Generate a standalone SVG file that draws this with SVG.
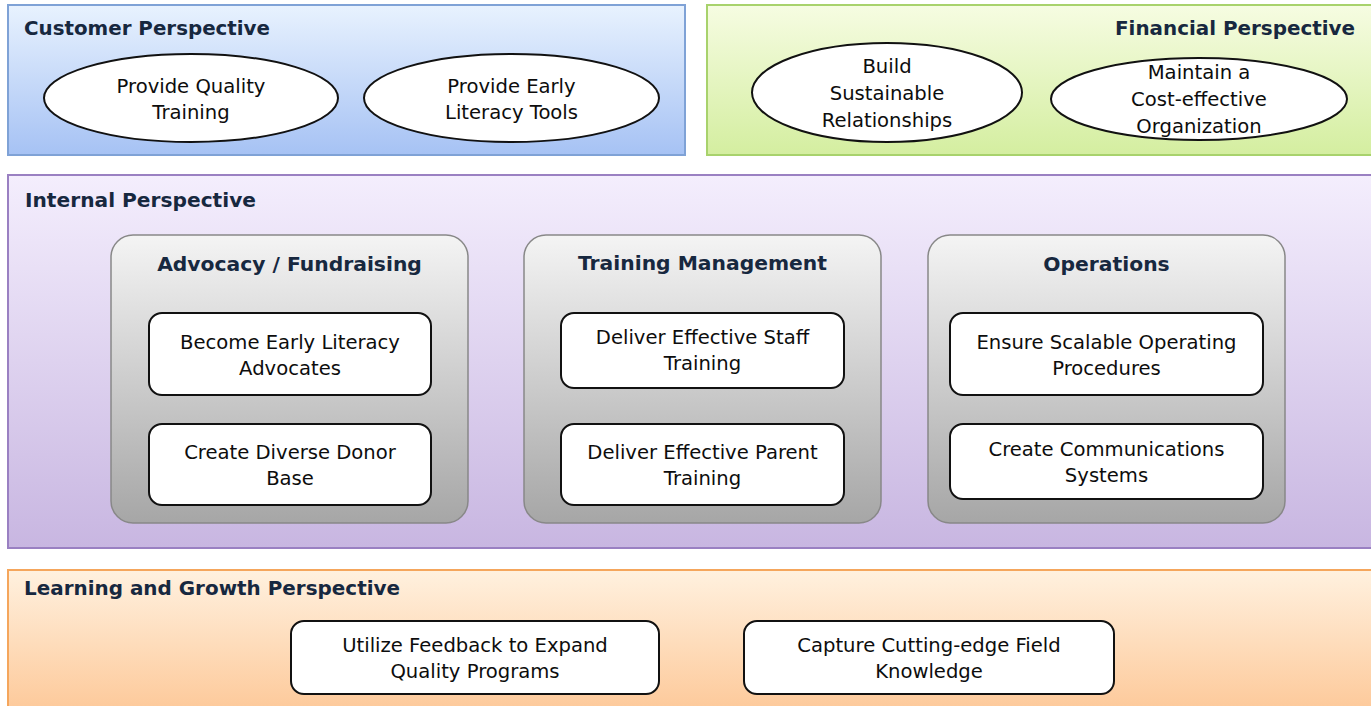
<svg xmlns="http://www.w3.org/2000/svg" width="1371" height="706" viewBox="0 0 1371 706">
<defs>
<linearGradient id="gBlue" x1="0" y1="0" x2="0" y2="1"><stop offset="0" stop-color="#e8f2fe"/><stop offset="1" stop-color="#a6c2f4"/></linearGradient>
<linearGradient id="gGreen" x1="0" y1="0" x2="0" y2="1"><stop offset="0" stop-color="#f6fce2"/><stop offset="1" stop-color="#d4eea0"/></linearGradient>
<linearGradient id="gPurple" x1="0" y1="0" x2="0" y2="1"><stop offset="0" stop-color="#f4eefd"/><stop offset="1" stop-color="#c8b6e1"/></linearGradient>
<linearGradient id="gOrange" x1="0" y1="0" x2="0" y2="1"><stop offset="0" stop-color="#fff1df"/><stop offset="1" stop-color="#fdc898"/></linearGradient>
<linearGradient id="gGray" x1="0" y1="0" x2="0" y2="1"><stop offset="0" stop-color="#f4f4f4"/><stop offset="1" stop-color="#a6a6a6"/></linearGradient>
</defs>
<style>
.title{font-family:"DejaVu Sans",Verdana,sans-serif;font-weight:bold;font-size:20px;fill:#17283f}
.gt{font-size:20.3px;text-anchor:middle}
.lbl{font-family:"DejaVu Sans",Verdana,sans-serif;font-size:19.6px;fill:#0d0d0d;text-anchor:middle}
.node{fill:#fff;stroke:#111;stroke-width:2}
.grp{fill:url(#gGray);stroke:#888;stroke-width:1.5}
</style>
<rect width="1371" height="706" fill="#fff"/>

<g id="customer-perspective">
<rect x="8" y="5" width="677" height="150" fill="url(#gBlue)" stroke="#7fa2d6" stroke-width="2"/>
<text class="title" x="24" y="35" textLength="246" lengthAdjust="spacingAndGlyphs">Customer Perspective</text>
</g>
<g id="provide-quality-training">
<ellipse class="node" cx="191" cy="98" rx="147" ry="44"/>
<text class="lbl" x="191" y="93">Provide Quality</text>
<text class="lbl" x="191" y="119">Training</text>
</g>
<g id="provide-early-literacy-tools">
<ellipse class="node" cx="511.5" cy="98" rx="147.5" ry="44"/>
<text class="lbl" x="511.5" y="93">Provide Early</text>
<text class="lbl" x="511.5" y="119">Literacy Tools</text>
</g>

<g id="financial-perspective">
<rect x="707" y="5" width="670" height="150" fill="url(#gGreen)" stroke="#a8d26c" stroke-width="2"/>
<text class="title" x="1355" y="35" text-anchor="end" textLength="240" lengthAdjust="spacingAndGlyphs">Financial Perspective</text>
</g>
<g id="build-sustainable-relationships">
<ellipse class="node" cx="887" cy="92.5" rx="135" ry="49.5"/>
<text class="lbl" x="887" y="73">Build</text>
<text class="lbl" x="887" y="100">Sustainable</text>
<text class="lbl" x="887" y="127">Relationships</text>
</g>
<g id="maintain-cost-effective-organization">
<ellipse class="node" cx="1199" cy="99" rx="148" ry="41"/>
<text class="lbl" x="1199" y="79">Maintain a</text>
<text class="lbl" x="1199" y="106">Cost-effective</text>
<text class="lbl" x="1199" y="133">Organization</text>
</g>

<g id="internal-perspective">
<rect x="8" y="175" width="1369" height="373" fill="url(#gPurple)" stroke="#9a80c2" stroke-width="2"/>
<text class="title" x="25" y="207" textLength="231" lengthAdjust="spacingAndGlyphs">Internal Perspective</text>
</g>
<g id="advocacy-fundraising">
<rect class="grp" x="111" y="235" width="357" height="288" rx="22"/>
<text class="title gt" x="289.5" y="271">Advocacy / Fundraising</text>
</g>
<g id="become-early-literacy-advocates">
<rect class="node" x="149" y="313" width="282" height="82" rx="13"/>
<text class="lbl" x="290" y="349">Become Early Literacy</text>
<text class="lbl" x="290" y="375">Advocates</text>
</g>
<g id="create-diverse-donor-base">
<rect class="node" x="149" y="424" width="282" height="81" rx="13"/>
<text class="lbl" x="290" y="459">Create Diverse Donor</text>
<text class="lbl" x="290" y="485">Base</text>
</g>

<g id="training-management">
<rect class="grp" x="524" y="235" width="357" height="288" rx="22"/>
<text class="title gt" x="702.5" y="270">Training Management</text>
</g>
<g id="deliver-effective-staff-training">
<rect class="node" x="561" y="313" width="283" height="75" rx="13"/>
<text class="lbl" x="702.5" y="344">Deliver Effective Staff</text>
<text class="lbl" x="702.5" y="370">Training</text>
</g>
<g id="deliver-effective-parent-training">
<rect class="node" x="561" y="424" width="283" height="81" rx="13"/>
<text class="lbl" x="702.5" y="459">Deliver Effective Parent</text>
<text class="lbl" x="702.5" y="485">Training</text>
</g>

<g id="operations">
<rect class="grp" x="928" y="235" width="357" height="288" rx="22"/>
<text class="title gt" x="1106.5" y="271">Operations</text>
</g>
<g id="ensure-scalable-operating-procedures">
<rect class="node" x="950" y="313" width="313" height="82" rx="13"/>
<text class="lbl" x="1106.5" y="349">Ensure Scalable Operating</text>
<text class="lbl" x="1106.5" y="375">Procedures</text>
</g>
<g id="create-communications-systems">
<rect class="node" x="950" y="424" width="313" height="75" rx="13"/>
<text class="lbl" x="1106.5" y="456">Create Communications</text>
<text class="lbl" x="1106.5" y="482">Systems</text>
</g>

<g id="learning-and-growth-perspective">
<rect x="8" y="570" width="1369" height="145" fill="url(#gOrange)" stroke="#f5a65c" stroke-width="2"/>
<text class="title" x="24" y="595" textLength="376" lengthAdjust="spacingAndGlyphs">Learning and Growth Perspective</text>
</g>
<g id="utilize-feedback">
<rect class="node" x="291" y="621" width="368" height="73" rx="13"/>
<text class="lbl" x="475" y="652">Utilize Feedback to Expand</text>
<text class="lbl" x="475" y="678">Quality Programs</text>
</g>
<g id="capture-cutting-edge-field-knowledge">
<rect class="node" x="744" y="621" width="370" height="73" rx="13"/>
<text class="lbl" x="929" y="652">Capture Cutting-edge Field</text>
<text class="lbl" x="929" y="678">Knowledge</text>
</g>

<g id="connectors"></g>
</svg>
